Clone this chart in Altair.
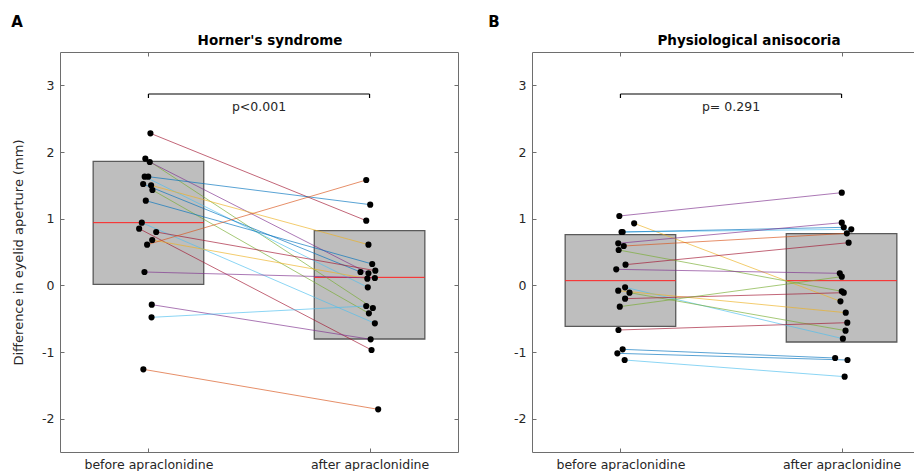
import altair as alt
import pandas as pd

# ---------------- data ----------------
groups = ["before apraclonidine", "after apraclonidine"]
panel_titles = ["Horner's syndrome", "Physiological anisocoria"]
panel_letters = ["A", "B"]
p_texts = ["p<0.001", "p= 0.291"]
y_title = "Difference in eyelid aperture (mm)"
y_ticks = [-2, -1, 0, 1, 2, 3]

matlab = {"bl": "#0072BD", "or": "#D95319", "ye": "#EDB120", "pu": "#7E2F8E",
          "gr": "#77AC30", "lb": "#4DBEEE", "dr": "#A2142F"}

# Horner's syndrome (paired)
horner_before = [2.28, 1.90, 1.85, 1.63, 1.63, 1.52, 1.50, 1.43, 1.27,
                 0.94, 0.85, 0.80, 0.68, 0.61, 0.20, -0.29, -0.48, -1.26]
horner_after = [0.97, -0.34, 0.18, 1.21, -0.03, 0.20, 0.61, -0.42, 0.32,
                -0.57, -0.97, 0.22, 0.10, 1.58, 0.11, -0.81, -0.31, -1.86]
horner_jit_before = [0.009, -0.014, 0.006, -0.001, -0.017, -0.024, 0.012, 0.018, -0.012,
                     -0.030, -0.042, 0.035, 0.017, -0.006, -0.018, 0.015, 0.014, -0.023]
horner_jit_after = [-0.015, 0.015, -0.005, 0.003, -0.008, -0.041, -0.005, -0.003, 0.012,
                    0.024, 0.009, 0.026, -0.010, -0.015, 0.024, 0.005, -0.015, 0.039]
horner_colors = ["dr", "gr", "pu", "bl", "lb", "bl", "ye", "gr", "bl",
                 "lb", "dr", "dr", "ye", "or", "pu", "pu", "lb", "or"]
horner_box_low = [0.015, -0.805]
horner_box_high = [1.86, 0.82]
horner_box_mid = [0.94, 0.12]

# Physiological anisocoria (paired)
physio_before = [1.04, 0.93, 0.80, 0.80, 0.63, 0.59, 0.53, 0.31, 0.24,
                 -0.03, -0.08, -0.11, -0.20, -0.32, -0.67, -0.96, -1.02, -1.12]
physio_after = [1.39, -0.24, 0.84, 0.87, 0.94, 0.78, -0.09, 0.64, 0.18,
                -0.80, -0.41, -0.68, -0.11, 0.13, -0.56, -1.09, -1.12, -1.37]
physio_jit_before = [-0.005, 0.062, 0.010, 0.005, -0.010, 0.015, -0.008, 0.023, -0.019,
                     0.021, -0.010, 0.041, 0.021, -0.003, -0.009, 0.010, -0.014, 0.019]
physio_jit_after = [0.001, -0.005, 0.044, 0.010, 0.001, 0.024, 0.001, 0.032, -0.008,
                    0.006, 0.019, 0.018, 0.010, 0.001, 0.026, -0.029, 0.027, 0.014]
physio_colors = ["pu", "ye", "lb", "bl", "pu", "or", "gr", "dr", "pu",
                 "lb", "ye", "gr", "dr", "gr", "dr", "bl", "bl", "lb"]
physio_box_low = [-0.615, -0.85]
physio_box_high = [0.76, 0.775]
physio_box_mid = [0.07, 0.07]

bracket_y = [2.87, 2.81]
p_text_y = 2.68

FONT = "DejaVu Sans"
X_DOMAIN = [0.6, 2.4]
Y_DOMAIN = [-2.5, 3.5]
BOX_HALF = 0.25
PANEL_W, PANEL_H = 398, 400
label_expr = "datum.value == 1 ? '%s' : '%s'" % (groups[0], groups[1])


def make_panel(idx, before, after, jb, ja, cols, blo, bhi, bmid, ptext, with_ytitle,
               letter_dx, title_x):
    xs = alt.Scale(domain=X_DOMAIN, nice=False, zero=False)
    ys = alt.Scale(domain=Y_DOMAIN, nice=False, zero=False)

    rows = []
    for i in range(len(before)):
        c = matlab[cols[i]]
        rows.append({"pair": i, "x": 1 + jb[i], "y": before[i], "c": c})
        rows.append({"pair": i, "x": 2 + ja[i], "y": after[i], "c": c})
    df_lines = pd.DataFrame(rows)

    df_box = pd.DataFrame({
        "g": [1, 2],
        "x1": [1 - BOX_HALF, 2 - BOX_HALF],
        "x2": [1 + BOX_HALF, 2 + BOX_HALF],
        "lo": blo, "hi": bhi, "mid": bmid,
    })

    y_axis_left = alt.Axis(
        orient="left", values=y_ticks, labelExpr="'' + datum.value", offset=-4, tickSize=4,
        domain=False, grid=False, labelPadding=6, labelFontSize=12.5, labelFont=FONT,
        labelColor="#262626", tickColor="#6e6e6e",
        title=y_title if with_ytitle else None, titleFont=FONT, titleFontSize=13,
        titleFontWeight="normal", titleColor="#262626", titlePadding=16,
    )
    x_axis_bottom = alt.Axis(
        orient="bottom", values=[1, 2], labelExpr=label_expr, offset=-4, tickSize=4,
        domain=False, grid=False, labelPadding=6, labelFontSize=12.5, labelFont=FONT,
        labelColor="#262626", tickColor="#6e6e6e", title=None,
    )
    x_axis_top = alt.Axis(orient="top", values=[1, 2], labels=False, offset=-4, tickSize=4,
                          domain=False, grid=False, tickColor="#6e6e6e", title=None)
    y_axis_right = alt.Axis(orient="right", values=y_ticks, labels=False, offset=-4, tickSize=4,
                            domain=False, grid=False, tickColor="#6e6e6e", title=None)

    box = alt.Chart(df_box).mark_rect(fill="#BEBEBE", stroke="#5a5a5a", strokeWidth=1.3).encode(
        x=alt.X("x1:Q", scale=xs, axis=x_axis_bottom),
        x2="x2:Q",
        y=alt.Y("lo:Q", scale=ys, axis=y_axis_left),
        y2="hi:Q",
    )
    mid = alt.Chart(df_box).mark_rule(color="#FF2020", strokeWidth=1).encode(
        x=alt.X("x1:Q", scale=xs, axis=x_axis_top),
        x2="x2:Q",
        y=alt.Y("mid:Q", scale=ys, axis=y_axis_right),
    )
    lines = alt.Chart(df_lines).mark_line(strokeWidth=1, opacity=0.65).encode(
        x=alt.X("x:Q", scale=xs, axis=None),
        y=alt.Y("y:Q", scale=ys, axis=None),
        detail="pair:N",
        color=alt.Color("c:N", scale=None),
    )
    dots = alt.Chart(df_lines).mark_circle(color="black", size=38, opacity=1).encode(
        x=alt.X("x:Q", scale=xs, axis=None),
        y=alt.Y("y:Q", scale=ys, axis=None),
    )
    df_br = pd.DataFrame({"x1": [1.0], "x2": [2.0], "y": [bracket_y[0]]})
    br_h = alt.Chart(df_br).mark_rule(color="black", strokeWidth=1.2).encode(
        x=alt.X("x1:Q", scale=xs, axis=None), x2="x2:Q",
        y=alt.Y("y:Q", scale=ys, axis=None),
    )
    df_ends = pd.DataFrame({"x": [1.0, 2.0], "y": [bracket_y[0]] * 2, "yend": [bracket_y[1]] * 2})
    br_v = alt.Chart(df_ends).mark_rule(color="black", strokeWidth=1.2).encode(
        x=alt.X("x:Q", scale=xs, axis=None),
        y=alt.Y("y:Q", scale=ys, axis=None), y2="yend:Q",
    )
    df_p = pd.DataFrame({"x": [1.5], "y": [p_text_y], "t": [ptext]})
    ptxt = alt.Chart(df_p).mark_text(font=FONT, fontSize=12.5, color="#262626", baseline="middle").encode(
        x=alt.X("x:Q", scale=xs, axis=None),
        y=alt.Y("y:Q", scale=ys, axis=None),
        text="t:N",
    )
    df_l = pd.DataFrame({"t": [panel_letters[idx]]})
    letter = alt.Chart(df_l).mark_text(font=FONT, fontSize=15, fontWeight="bold", color="black",
                                        baseline="middle", align="center").encode(
        x=alt.value(letter_dx), y=alt.value(-30), text="t:N",
    )
    df_t = pd.DataFrame({"t": [panel_titles[idx]]})
    title = alt.Chart(df_t).mark_text(font=FONT, fontSize=13.5, fontWeight="bold", color="black",
                                       baseline="alphabetic", align="center").encode(
        x=alt.value(title_x), y=alt.value(-7), text="t:N",
    )

    return alt.layer(box, mid, lines, dots, br_h, br_v, ptxt, letter, title).properties(
        width=PANEL_W, height=PANEL_H,
    )


panel_a = make_panel(0, horner_before, horner_after, horner_jit_before, horner_jit_after,
                     horner_colors, horner_box_low, horner_box_high, horner_box_mid,
                     p_texts[0], True, -43, 210)
panel_b = make_panel(1, physio_before, physio_after, physio_jit_before, physio_jit_after,
                     physio_colors, physio_box_low, physio_box_high, physio_box_mid,
                     p_texts[1], False, -38, 217)

# Fixed canvas (906 x 455 inside the 8px page margin); content beyond it is cropped,
# as in the reference figure.
chart = alt.hconcat(panel_a, panel_b, spacing=28).properties(
    autosize=alt.AutoSizeParams(type="none"),
    padding={"left": 52, "top": 44, "right": 854, "bottom": 411},
    background="white",
).configure_view(stroke="#6e6e6e", strokeWidth=1)

chart.save("out.html", embed_options={"renderer": "svg", "actions": False})
